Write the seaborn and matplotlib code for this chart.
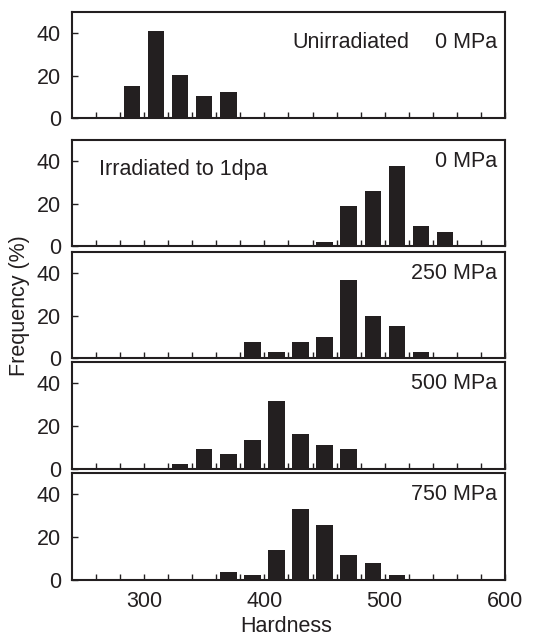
import matplotlib
matplotlib.use("Agg")
import matplotlib.pyplot as plt
import seaborn as sns

# ── Data (bin centres and frequencies, %) ─────────────────────────────────────
unirr_x = [290, 310, 330, 350, 370]
unirr_y = [15.1, 41.1, 20.3, 10.2, 12.4]

irr0_x = [450, 470, 490, 510, 530, 550]
irr0_y = [2.0, 18.9, 26.0, 37.8, 9.2, 6.8]

irr250_x = [390, 410, 430, 450, 470, 490, 510, 530]
irr250_y = [7.5, 2.6, 7.5, 9.8, 36.9, 19.8, 15.0, 2.6]

irr500_x = [330, 350, 370, 390, 410, 430, 450, 470]
irr500_y = [2.3, 9.2, 7.0, 13.7, 31.9, 16.2, 11.4, 9.2]

irr750_x = [370, 390, 410, 430, 450, 470, 490, 510]
irr750_y = [3.8, 2.2, 14.0, 33.4, 25.6, 11.7, 7.8, 2.2]

stress_labels = ["0 MPa", "0 MPa", "250 MPa", "500 MPa", "750 MPa"]
x_ticks = [300, 400, 500, 600]
y_ticks = [0, 20, 40]

sns.set_theme(style="white")
plt.rcParams["font.family"] = ["Liberation Sans", "DejaVu Sans"]

BAR_COLOR = "#231f20"
TEXT_COLOR = "#231f20"
FS = 15.5
W, H = 539, 639
LEFT, RIGHT = 72, 505
# (top, bottom) pixel rows of each panel
PANELS = [(12, 118), (140, 246), (252, 358), (362, 469), (473, 580)]

fig = plt.figure(figsize=(W / 100, H / 100), dpi=100)

series = [(unirr_x, unirr_y), (irr0_x, irr0_y), (irr250_x, irr250_y),
          (irr500_x, irr500_y), (irr750_x, irr750_y)]

for i, ((xs, ys), (top, bot)) in enumerate(zip(series, PANELS)):
    ax = fig.add_axes([LEFT / W, 1 - bot / H, (RIGHT - LEFT) / W, (bot - top) / H])
    sns.barplot(x=xs, y=ys, native_scale=True, width=0.68, color=BAR_COLOR,
                saturation=1, linewidth=0, ax=ax)
    ax.set_xlim(240, 600)
    ax.set_ylim(0, 50)
    ax.set_xticks(range(260, 600, 20), minor=True)
    ax.set_xticks(x_ticks)
    ax.set_yticks(y_ticks)
    ax.tick_params(axis="both", which="both", direction="in", length=4,
                   width=1, color=TEXT_COLOR, labelsize=FS, labelcolor=TEXT_COLOR,
                   bottom=True, left=True, top=False, right=False)
    ax.tick_params(axis="y", pad=8)
    ax.tick_params(axis="x", pad=8)
    ax.set_xlabel("")
    ax.set_ylabel("")
    if i < len(series) - 1:
        ax.tick_params(axis="x", labelbottom=False)
    for sp in ax.spines.values():
        sp.set_linewidth(1.5)
        sp.set_color(TEXT_COLOR)

    ty = 0.71 if i == 0 else 0.80
    ax.text(0.981, ty, stress_labels[i], transform=ax.transAxes, ha="right",
            va="center", fontsize=FS, color=TEXT_COLOR)
    if i == 0:
        ax.text(0.51, ty, "Unirradiated", transform=ax.transAxes, ha="left",
                va="center", fontsize=FS, color=TEXT_COLOR)
    if i == 1:
        ax.text(0.062, 0.72, "Irradiated to 1dpa", transform=ax.transAxes,
                ha="left", va="center", fontsize=FS, color=TEXT_COLOR)

fig.text(20 / W, 1 - 306 / H, "Frequency (%)", rotation=90, ha="center",
         va="center", fontsize=FS, color=TEXT_COLOR)
fig.text(286 / W, 1 - 627 / H, "Hardness", ha="center", va="center",
         fontsize=FS, color=TEXT_COLOR)

fig.savefig("out.png", dpi=100)
